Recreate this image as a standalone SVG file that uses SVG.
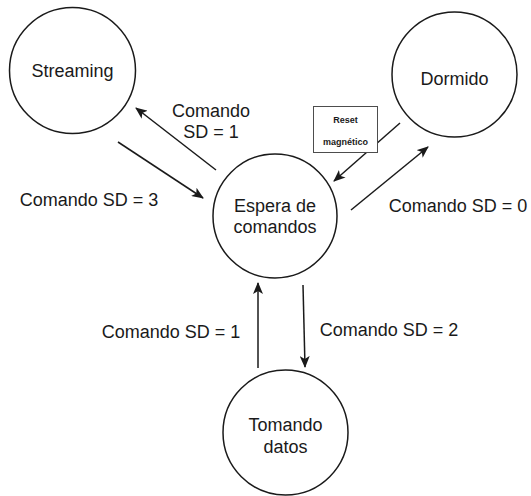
<svg xmlns="http://www.w3.org/2000/svg" width="531" height="496" viewBox="0 0 531 496">
  <style>
    .state { fill: #ffffff; stroke: #1a1a1a; stroke-width: 1.5; }
    .label { font-family: "Liberation Sans", Arial, sans-serif; font-size: 18px; fill: #1a1a1a; text-anchor: middle; dominant-baseline: central; }
    .edge { stroke: #1a1a1a; stroke-width: 1.5; fill: none; marker-end: url(#arrow); }
    .note { fill: #ffffff; stroke: #4d4d4d; stroke-width: 1; }
    .small { font-family: "Liberation Sans", Arial, sans-serif; font-size: 9px; font-weight: bold; fill: #1a1a1a; text-anchor: middle; dominant-baseline: central; }
  </style>
  <defs>
    <marker id="arrow" viewBox="0 0 12 10" refX="11" refY="5" markerWidth="12" markerHeight="10" markerUnits="userSpaceOnUse" orient="auto">
      <path d="M12,5 L0,0 L3,5 L0,10 Z" fill="#1a1a1a"/>
    </marker>
  </defs>
  <rect width="531" height="496" fill="#ffffff"/>

  <!-- transitions -->
  <g id="connectors">
    <line class="edge" x1="216" y1="170" x2="136" y2="108"/>
    <line class="edge" x1="118" y1="142" x2="203" y2="198"/>
    <line class="edge" x1="400" y1="123" x2="334" y2="181"/>
    <line class="edge" x1="351" y1="210" x2="428" y2="147"/>
    <line class="edge" x1="258" y1="368" x2="258" y2="283"/>
    <line class="edge" x1="303" y1="285" x2="305" y2="367"/>
  </g>

  <!-- transition labels -->
  <g id="edge-labels">
    <text class="label" x="211" y="111">Comando</text>
    <text class="label" x="211" y="132">SD = 1</text>
    <text class="label" x="89" y="200">Comando SD = 3</text>
    <text class="label" x="458" y="206">Comando SD = 0</text>
    <text class="label" x="171" y="332">Comando SD = 1</text>
    <text class="label" x="389" y="330">Comando SD = 2</text>
  </g>

  <g id="reset-note">
    <rect class="note" x="313.5" y="106.5" width="64" height="46"/>
    <text class="small" x="345.5" y="120">Reset</text>
    <text class="small" x="345.5" y="142">magnético</text>
  </g>

  <g id="streaming">
    <circle class="state" cx="72.5" cy="70.5" r="63"/>
    <text class="label" x="72.5" y="71">Streaming</text>
  </g>

  <g id="dormido">
    <circle class="state" cx="454.5" cy="74.5" r="62.5"/>
    <text class="label" x="454.5" y="79">Dormido</text>
  </g>

  <g id="espera">
    <circle class="state" cx="275" cy="216" r="62"/>
    <text class="label" x="275" y="206">Espera de</text>
    <text class="label" x="275" y="227">comandos</text>
  </g>

  <g id="tomando">
    <circle class="state" cx="285.5" cy="432.5" r="62.5"/>
    <text class="label" x="285.5" y="425">Tomando</text>
    <text class="label" x="285.5" y="447">datos</text>
  </g>
</svg>
